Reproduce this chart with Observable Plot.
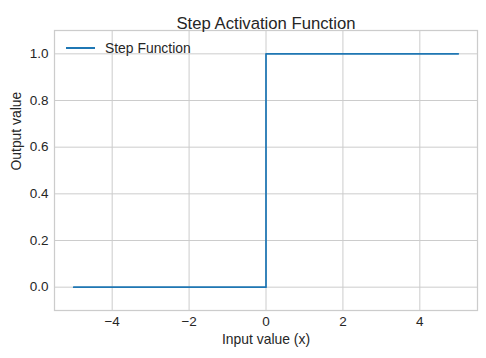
<!DOCTYPE html>
<html>
<head>
<meta charset="utf-8">
<script src="https://cdn.jsdelivr.net/npm/d3@7"></script>
<script src="https://cdn.jsdelivr.net/npm/@observablehq/plot@0.6"></script>
<style>
  html, body { margin: 0; padding: 0; background: #fff; }
  #wrap { position: relative; width: 486px; height: 358px; font-family: "Liberation Sans", Arial, sans-serif; }
  #legend { position: absolute; left: 66px; top: 40px; display: flex; align-items: center; font-size: 13.9px; color: #262626; }
  #legend .sw { width: 29px; height: 0; border-top: 2px solid #1f77b4; margin-right: 10px; }
</style>
</head>
<body>
<div id="wrap">
  <div id="chart"></div>
  <div id="legend"><span class="sw"></span><span id="legtext"></span></div>
</div>
<script>
const titleText = "Step Activation Function";
const xLabel = "Input value (x)";
const yLabel = "Output value";
const seriesName = "Step Function";

// Step function breakpoints: x and y values
const xValues = [-5, 0, 0, 5];
const yValues = [0, 0, 1, 1];

const xTicks = [-4, -2, 0, 2, 4];
const yTicks = [0.0, 0.2, 0.4, 0.6, 0.8, 1.0];

const data = xValues.map((x, i) => ({x, y: yValues[i]}));
const textColor = "#262626";
const gridColor = "#cccccc";

const chart = Plot.plot({
  width: 486,
  height: 358,
  marginLeft: 54,
  marginRight: 9,
  marginTop: 30,
  marginBottom: 48,
  style: {fontFamily: '"Liberation Sans", Arial, sans-serif', fontSize: "13.5px", color: textColor, background: "#fff"},
  x: {domain: [-5.5, 5.5]},
  y: {domain: [-0.1, 1.1]},
  marks: [
    Plot.gridX(xTicks, {stroke: gridColor, strokeOpacity: 1, strokeWidth: 1}),
    Plot.gridY(yTicks, {stroke: gridColor, strokeOpacity: 1, strokeWidth: 1}),
    Plot.frame({stroke: gridColor, strokeWidth: 1.25}),
    Plot.axisX(xTicks, {tickSize: 0, tickPadding: 6, label: null, fill: textColor,
      tickFormat: d => d < 0 ? "\u2212" + Math.abs(d) : String(d)}),
    Plot.axisY(yTicks, {tickSize: 0, tickPadding: 6, label: null, fill: textColor, tickFormat: d3.format(".1f")}),
    Plot.line(data, {x: "x", y: "y", stroke: "#1f77b4", strokeWidth: 1.75}),
    Plot.text([titleText], {frameAnchor: "top", dy: -13, text: d => d, fontSize: 16.7, fill: textColor}),
    Plot.text([xLabel], {frameAnchor: "bottom", dy: 33, text: d => d, fontSize: 13.9, fill: textColor}),
    Plot.text([yLabel], {frameAnchor: "left", dx: -38, rotate: -90, text: d => d, fontSize: 13.9, fill: textColor})
  ]
});
document.getElementById("chart").appendChild(chart);
document.getElementById("legtext").textContent = seriesName;
</script>
</body>
</html>
